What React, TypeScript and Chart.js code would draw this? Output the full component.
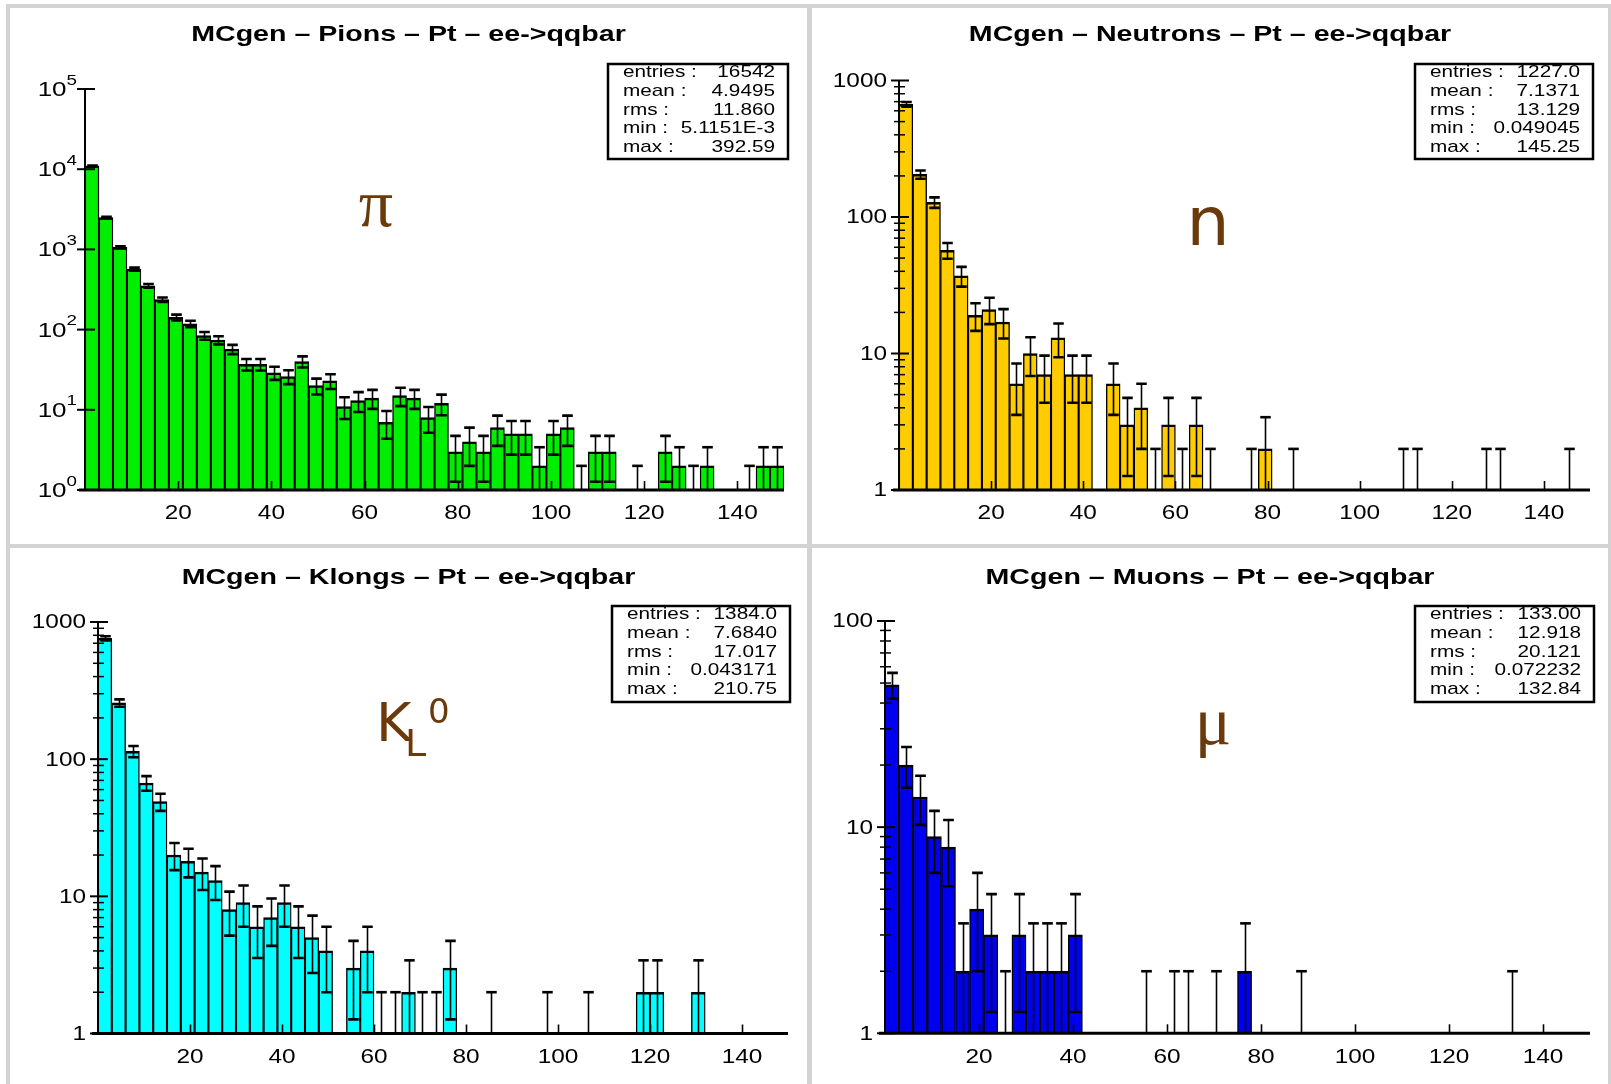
import React, { useEffect, useRef } from "react";
import { Chart, registerables } from "chart.js";

Chart.register(...registerables);

// ---------- data ----------
const BIN_WIDTH = 3;
const binLowEdges = [
  0, 3, 6, 9, 12, 15, 18, 21, 24, 27, 30, 33, 36, 39, 42, 45, 48, 51, 54, 57,
  60, 63, 66, 69, 72, 75, 78, 81, 84, 87, 90, 93, 96, 99, 102, 105, 108, 111, 114, 117,
  120, 123, 126, 129, 132, 135, 138, 141, 144, 147,
];

const pionCounts = [
  11000, 2500, 1060, 568, 352, 236, 142, 118, 84, 74, 57, 37, 37, 29, 26, 40, 20, 23, 11, 13,
  14, 7, 15, 14, 8, 12, 3, 4, 3, 6, 5, 5, 2, 5, 6, 1, 3, 3, 0, 1,
  0, 3, 2, 1, 2, 0, 0, 1, 2, 2,
];
const neutronCounts = [
  670, 205, 128, 57, 37, 19, 21, 17, 6, 10, 7, 13, 7, 7, 0, 6, 3, 4, 1, 3,
  1, 3, 1, 0, 0, 1, 2, 0, 1, 0, 0, 0, 0, 0, 0, 0, 1, 1, 0, 0,
  0, 0, 1, 1, 0, 0, 0, 0, 1, 0,
];
const klongCounts = [
  760, 257, 114, 67, 49, 20, 18, 15, 13, 8, 9, 6, 7, 9, 6, 5, 4, 0, 3, 4,
  1, 1, 2, 1, 1, 3, 0, 0, 1, 0, 0, 0, 1, 0, 0, 1, 0, 0, 0, 2,
  2, 0, 0, 2, 0, 0, 0, 0, 0, 0,
];
const muonCounts = [
  49, 20, 14, 9, 8, 2, 4, 3, 1, 3, 2, 2, 2, 3, 0, 0, 0, 0, 1, 0,
  1, 1, 0, 1, 0, 2, 0, 0, 0, 1, 0, 0, 0, 0, 0, 0, 0, 0, 0, 0,
  0, 0, 0, 0, 1, 0, 0, 0, 0, 0,
];

const xTickValues = [20, 40, 60, 80, 100, 120, 140];
const pionYTicks = [1, 10, 100, 1000, 10000, 100000];
const pionYExponents = ["0", "1", "2", "3", "4", "5"];
const thousandYTicks = [1, 10, 100, 1000];
const thousandYLabels = ["1", "10", "100", "1000"];
const hundredYTicks = [1, 10, 100];
const hundredYLabels = ["1", "10", "100"];

const statLabels = ["entries :", "mean :", "rms :", "min :", "max :"];
const pionStats = ["16542", "4.9495", "11.860", "5.1151E-3", "392.59"];
const neutronStats = ["1227.0", "7.1371", "13.129", "0.049045", "145.25"];
const klongStats = ["1384.0", "7.6840", "17.017", "0.043171", "210.75"];
const muonStats = ["133.00", "12.918", "20.121", "0.072232", "132.84"];

const titles = [
  "MCgen \u2013 Pions \u2013 Pt \u2013 ee->qqbar",
  "MCgen \u2013 Neutrons \u2013 Pt \u2013 ee->qqbar",
  "MCgen \u2013 Klongs \u2013 Pt \u2013 ee->qqbar",
  "MCgen \u2013 Muons \u2013 Pt \u2013 ee->qqbar",
];

// ---------- layout / style ----------
const SANS = '"Liberation Sans", Arial, sans-serif';
const SERIF = '"Liberation Serif", "DejaVu Serif", serif';
const GREEK_COLOR = "#6b3a0b";

type PanelCfg = {
  title: string;
  counts: number[];
  color: string;
  yMax: number;
  yTicks: number[];
  yLabels: string[];
  pow: boolean;
  minor: boolean;
  stats: string[];
  left: number;
  top: number;
  w: number;
  h: number;
  pad: { left: number; right: number; top: number; bottom: number };
  box: { x: number; y: number; w: number; h: number };
  titleY: number;
  greek: "pi" | "n" | "kl" | "mu";
};

const panels: PanelCfg[] = [
  {
    title: titles[0], counts: pionCounts, color: "#00ee00", yMax: 100000,
    yTicks: pionYTicks, yLabels: pionYExponents, pow: true, minor: false, stats: pionStats,
    left: 10, top: 8, w: 797, h: 536,
    pad: { left: 75, right: 23, top: 81, bottom: 54 },
    box: { x: 598, y: 56, w: 180, h: 95 }, titleY: 27, greek: "pi",
  },
  {
    title: titles[1], counts: neutronCounts, color: "#ffcc00", yMax: 1000,
    yTicks: thousandYTicks, yLabels: thousandYLabels, pow: false, minor: true, stats: neutronStats,
    left: 812, top: 8, w: 796, h: 536,
    pad: { left: 87, right: 18, top: 72.5, bottom: 54 },
    box: { x: 603, y: 56, w: 178, h: 95 }, titleY: 27, greek: "n",
  },
  {
    title: titles[2], counts: klongCounts, color: "#00ffff", yMax: 1000,
    yTicks: thousandYTicks, yLabels: thousandYLabels, pow: false, minor: true, stats: klongStats,
    left: 10, top: 548, w: 797, h: 536,
    pad: { left: 88, right: 19, top: 74, bottom: 50.5 },
    box: { x: 602, y: 58, w: 178, h: 96 }, titleY: 29.5, greek: "kl",
  },
  {
    title: titles[3], counts: muonCounts, color: "#0000f0", yMax: 100,
    yTicks: hundredYTicks, yLabels: hundredYLabels, pow: false, minor: true, stats: muonStats,
    left: 812, top: 548, w: 796, h: 536,
    pad: { left: 73, right: 18, top: 73, bottom: 50.7 },
    box: { x: 603, y: 58, w: 179, h: 96 }, titleY: 29.5, greek: "mu",
  },
];

function drawText(
  ctx: CanvasRenderingContext2D, text: string, x: number, y: number,
  font: string, sx: number, align: "left" | "center" | "right",
  baseline: CanvasTextBaseline = "middle"
) {
  ctx.save();
  ctx.font = font;
  ctx.textAlign = "left";
  ctx.textBaseline = baseline;
  const w = ctx.measureText(text).width * sx;
  const x0 = align === "left" ? x : align === "center" ? x - w / 2 : x - w;
  ctx.translate(x0, y);
  ctx.scale(sx, 1);
  ctx.fillText(text, 0, 0);
  ctx.restore();
  return w;
}

function makePlugin(cfg: PanelCfg) {
  return {
    id: "histDecor",
    afterDatasetsDraw(chart: any) {
      const ctx: CanvasRenderingContext2D = chart.ctx;
      const xs = chart.scales.x;
      const ys = chart.scales.y;
      const area = chart.chartArea;
      const binPx = xs.getPixelForValue(BIN_WIDTH) - xs.getPixelForValue(0);
      ctx.save();
      ctx.strokeStyle = "#000";
      ctx.fillStyle = "#000";
      ctx.lineCap = "butt";

      // error bars
      cfg.counts.forEach((v, i) => {
        if (v <= 0) return;
        const cx = Math.round(xs.getPixelForValue(binLowEdges[i] + BIN_WIDTH / 2)) + 0.5;
        const e = Math.sqrt(v);
        const yUp = ys.getPixelForValue(v + e);
        const lowV = v - e;
        const yLow = lowV > 1 ? ys.getPixelForValue(lowV) : area.bottom;
        const half = binPx * 0.38;
        ctx.lineWidth = 1.6;
        ctx.beginPath();
        ctx.moveTo(cx, yLow);
        ctx.lineTo(cx, yUp);
        ctx.stroke();
        ctx.lineWidth = 2.6;
        ctx.beginPath();
        ctx.moveTo(cx - half, yUp);
        ctx.lineTo(cx + half, yUp);
        if (lowV > 1) {
          ctx.moveTo(cx - half, yLow);
          ctx.lineTo(cx + half, yLow);
        }
        ctx.stroke();
      });

      // axes
      ctx.lineWidth = 2;
      ctx.beginPath();
      ctx.moveTo(area.left, area.top);
      ctx.lineTo(area.left, area.bottom);
      ctx.stroke();
      ctx.lineWidth = 3;
      ctx.beginPath();
      ctx.moveTo(area.left - 6, area.bottom);
      ctx.lineTo(area.right, area.bottom);
      ctx.stroke();

      // y ticks
      ctx.lineWidth = 2;
      cfg.yTicks.forEach((t) => {
        const y = ys.getPixelForValue(t);
        ctx.beginPath();
        ctx.moveTo(area.left - 8, y);
        ctx.lineTo(area.left + 10, y);
        ctx.stroke();
      });
      if (cfg.minor) {
        ctx.lineWidth = 1.5;
        cfg.yTicks.forEach((t) => {
          if (t >= cfg.yMax) return;
          for (let k = 2; k <= 9; k++) {
            const y = ys.getPixelForValue(t * k);
            ctx.beginPath();
            ctx.moveTo(area.left - 5, y);
            ctx.lineTo(area.left + 6, y);
            ctx.stroke();
          }
        });
      }
      // x ticks
      ctx.lineWidth = 1.6;
      xTickValues.forEach((t) => {
        const x = Math.round(xs.getPixelForValue(t)) + 0.5;
        ctx.beginPath();
        ctx.moveTo(x, area.bottom);
        ctx.lineTo(x, area.bottom - 9);
        ctx.stroke();
      });

      // tick labels
      const tickFont = `19.5px ${SANS}`;
      xTickValues.forEach((t) => {
        drawText(ctx, String(t), xs.getPixelForValue(t), area.bottom + 24, tickFont, 1.25, "center");
      });
      cfg.yTicks.forEach((t, i) => {
        const y = ys.getPixelForValue(t);
        if (cfg.pow) {
          const supFont = `15px ${SANS}`;
          ctx.save();
          ctx.font = supFont;
          const ws = ctx.measureText(cfg.yLabels[i]).width * 1.25;
          ctx.restore();
          const right = area.left - 8;
          drawText(ctx, cfg.yLabels[i], right, y - 8.5, supFont, 1.25, "right");
          drawText(ctx, "10", right - ws, y + 1.5, `20px ${SANS}`, 1.3, "right");
        } else {
          drawText(ctx, cfg.yLabels[i], area.left - 12, y + 1, tickFont, 1.25, "right");
        }
      });

      // title
      drawText(ctx, cfg.title, chart.width / 2, cfg.titleY, `bold 22px ${SANS}`, 1.3, "center");

      // stats box
      const b = cfg.box;
      ctx.save();
      ctx.beginPath();
      ctx.rect(b.x, b.y, b.w, b.h);
      ctx.clip();
      const statFont = `17px ${SANS}`;
      const offs = [8.5, 27.5, 46, 64.5, 83];
      statLabels.forEach((lab, i) => {
        drawText(ctx, lab, b.x + 15, b.y + offs[i], statFont, 1.22, "left");
        drawText(ctx, cfg.stats[i], b.x + b.w - 13, b.y + offs[i], statFont, 1.22, "right");
      });
      ctx.restore();
      ctx.lineWidth = 2.5;
      ctx.strokeRect(b.x, b.y, b.w, b.h);

      // particle symbol
      ctx.fillStyle = GREEK_COLOR;
      if (cfg.greek === "pi") {
        ctx.font = `68px ${SERIF}`;
        ctx.textAlign = "center";
        ctx.textBaseline = "alphabetic";
        ctx.fillText("\u03c0", 366, 218);
      } else if (cfg.greek === "n") {
        ctx.font = `68px "DejaVu Sans", sans-serif`;
        ctx.textAlign = "center";
        ctx.textBaseline = "alphabetic";
        ctx.fillText("n", 396, 237);
      } else if (cfg.greek === "kl") {
        ctx.textAlign = "left";
        ctx.textBaseline = "alphabetic";
        ctx.font = `54px "DejaVu Sans", sans-serif`;
        ctx.fillText("K", 366, 193);
        ctx.font = `38px "DejaVu Sans", sans-serif`;
        ctx.fillText("L", 395, 208);
        ctx.font = `34px "DejaVu Sans", sans-serif`;
        ctx.fillText("0", 418, 175);
      } else {
        ctx.font = `68px ${SERIF}`;
        ctx.textAlign = "center";
        ctx.textBaseline = "alphabetic";
        ctx.fillText("\u03bc", 401, 196);
      }
      ctx.restore();
    },
  };
}

function Panel({ cfg }: { cfg: PanelCfg }) {
  const ref = useRef<HTMLCanvasElement>(null);
  useEffect(() => {
    const canvas = ref.current;
    if (!canvas) return;
    const chart = new Chart(canvas, {
      type: "bar",
      data: {
        datasets: [
          {
            data: cfg.counts.map((v, i) => ({ x: binLowEdges[i] + BIN_WIDTH / 2, y: v })),
            backgroundColor: cfg.color,
            borderColor: "#000",
            borderWidth: { top: 2.5, left: 1.4, right: 1.4, bottom: 0 },
            borderSkipped: "start",
            barPercentage: 1,
            categoryPercentage: 1,
          } as any,
        ],
      },
      options: {
        animation: false,
        responsive: false,
        maintainAspectRatio: false,
        devicePixelRatio: 1,
        events: [],
        layout: { padding: cfg.pad },
        plugins: {
          legend: { display: false },
          tooltip: { enabled: false },
          title: { display: false },
        },
        scales: {
          x: { type: "linear", min: 0, max: 150, offset: false, display: false },
          y: { type: "logarithmic", min: 1, max: cfg.yMax, display: false },
        },
      } as any,
      plugins: [makePlugin(cfg)],
    });
    return () => chart.destroy();
  }, [cfg]);
  return (
    <canvas
      ref={ref}
      width={cfg.w}
      height={cfg.h}
      style={{ position: "absolute", left: cfg.left, top: cfg.top, background: "#fff", width: cfg.w, height: cfg.h }}
    />
  );
}

export default function App() {
  return (
    <div style={{ position: "absolute", left: 0, top: 0, width: 1611, height: 1084, background: "#fff", overflow: "hidden" }}>
      <div style={{ position: "absolute", left: 6, top: 4, width: 1606, height: 1084, background: "#d3d3d3" }} />
      {panels.map((p, i) => (
        <Panel key={i} cfg={p} />
      ))}
    </div>
  );
}
